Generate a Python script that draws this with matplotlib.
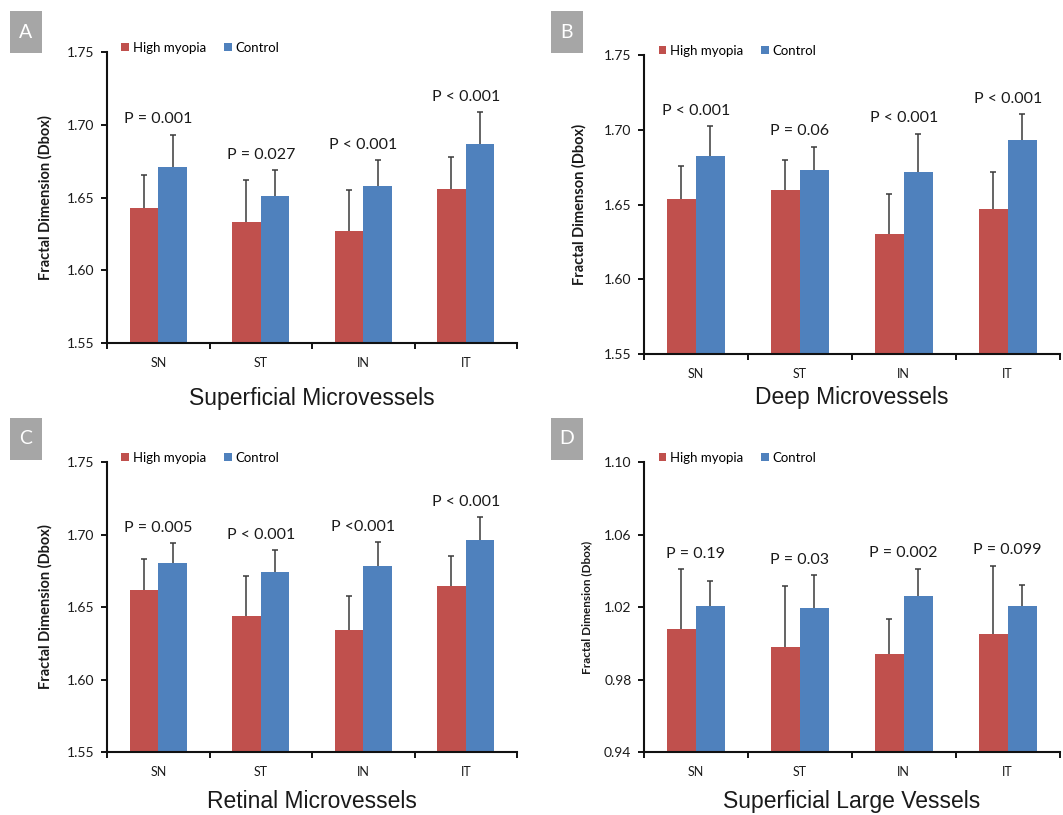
import matplotlib
matplotlib.use("Agg")
import matplotlib.pyplot as plt
from matplotlib.patches import Rectangle
import numpy as np

categories = ["SN", "ST", "IN", "IT"]
groups = ["High myopia", "Control"]

# Fractal dimension (Dbox), mean and SD per sector
a_myopia = [1.643, 1.633, 1.627, 1.656]
a_myopia_sd = [0.0223, 0.0293, 0.0282, 0.0222]
a_control = [1.671, 1.651, 1.658, 1.687]
a_control_sd = [0.0222, 0.0180, 0.0176, 0.0218]
a_pvals = ["P = 0.001", "P = 0.027", "P < 0.001", "P < 0.001"]

b_myopia = [1.654, 1.660, 1.630, 1.647]
b_myopia_sd = [0.0220, 0.0195, 0.0270, 0.0245]
b_control = [1.6826, 1.6728, 1.6719, 1.6929]
b_control_sd = [0.0200, 0.0160, 0.0256, 0.0176]
b_pvals = ["P < 0.001", "P = 0.06", "P < 0.001", "P < 0.001"]

c_myopia = [1.662, 1.644, 1.634, 1.6645]
c_myopia_sd = [0.0213, 0.0273, 0.0236, 0.0206]
c_control = [1.6805, 1.6743, 1.6784, 1.6963]
c_control_sd = [0.0135, 0.0151, 0.0163, 0.0157]
c_pvals = ["P = 0.005", "P < 0.001", "P <0.001", "P < 0.001"]

d_myopia = [1.008, 0.9977, 0.9942, 1.0049]
d_myopia_sd = [0.0328, 0.0338, 0.0191, 0.0380]
d_control = [1.0204, 1.0193, 1.0260, 1.0204]
d_control_sd = [0.0141, 0.0182, 0.0151, 0.0116]
d_pvals = ["P = 0.19", "P = 0.03", "P = 0.002", "P = 0.099"]

red = "#C0504D"
blue = "#4F81BD"
err_color = "#3a3a3a"
txt = "#1a1a1a"
ui_font = ["Lato", "DejaVu Sans"]
title_font = ["Liberation Sans", "DejaVu Sans"]

panels = [
    dict(letter="A", title="Superficial Microvessels", ylabel="Fractal Dimension (Dbox)",
         hm=a_myopia, hm_sd=a_myopia_sd, ct=a_control, ct_sd=a_control_sd, p=a_pvals,
         ylim=(1.55, 1.75), yticks=[1.55, 1.60, 1.65, 1.70, 1.75],
         rect=[0.1007, 0.5791, 0.3857, 0.357], title_y=-0.189, ylab_x=-0.132, ylab_size=10.5,
         box=(10, 11)),
    dict(letter="B", title="Deep Microvessels", ylabel="Fractal Dimenson (Dbox)",
         hm=b_myopia, hm_sd=b_myopia_sd, ct=b_control, ct_sd=b_control_sd, p=b_pvals,
         ylim=(1.55, 1.75), yticks=[1.55, 1.60, 1.65, 1.70, 1.75],
         rect=[0.6058, 0.5656, 0.391, 0.3669], title_y=-0.147, ylab_x=-0.137, ylab_size=10.5,
         box=(551, 11)),
    dict(letter="C", title="Retinal Microvessels", ylabel="Fractal Dimension (Dbox)",
         hm=c_myopia, hm_sd=c_myopia_sd, ct=c_control, ct_sd=c_control_sd, p=c_pvals,
         ylim=(1.55, 1.75), yticks=[1.55, 1.60, 1.65, 1.70, 1.75],
         rect=[0.1007, 0.0773, 0.3857, 0.3558], title_y=-0.172, ylab_x=-0.132, ylab_size=10.5,
         box=(10, 418)),
    dict(letter="D", title="Superficial Large Vessels", ylabel="Fractal Dimension (Dbox)",
         hm=d_myopia, hm_sd=d_myopia_sd, ct=d_control, ct_sd=d_control_sd, p=d_pvals,
         ylim=(0.94, 1.10), yticks=[0.94, 0.98, 1.02, 1.06, 1.10],
         rect=[0.6058, 0.0773, 0.391, 0.3558], title_y=-0.172, ylab_x=-0.125, ylab_size=8.5,
         box=(551, 418)),
]

W, H = 1063, 815
fig = plt.figure(figsize=(W / 100, H / 100), dpi=100)

x = np.arange(len(categories))
w = 0.28

for pn in panels:
    ax = fig.add_axes(pn["rect"])
    b1 = ax.bar(x - w / 2, pn["hm"], w, color=red, label=groups[0], zorder=2)
    b2 = ax.bar(x + w / 2, pn["ct"], w, color=blue, label=groups[1], zorder=2)

    # upper error bars only
    for xs, vals, sds in [(x - w / 2, pn["hm"], pn["hm_sd"]), (x + w / 2, pn["ct"], pn["ct_sd"])]:
        eb = ax.errorbar(xs, vals, yerr=[np.zeros(len(sds)), sds], fmt="none",
                         ecolor=err_color, elinewidth=1.1, capsize=2.5, capthick=1.1, zorder=3)
        eb[1][0].set_visible(False)

    tops = np.maximum(np.array(pn["hm"]) + np.array(pn["hm_sd"]),
                      np.array(pn["ct"]) + np.array(pn["ct_sd"]))
    for xi, t, lab in zip(x, tops, pn["p"]):
        ax.annotate(lab, (xi, t), xytext=(0, 11), textcoords="offset points",
                    ha="center", va="center", fontsize=11.5, family=ui_font, color=txt)

    ax.set_xlim(-0.5, len(categories) - 0.5)
    ax.set_ylim(*pn["ylim"])
    ax.set_yticks(pn["yticks"])
    ax.set_yticklabels([f"{t:.2f}" for t in pn["yticks"]], family=ui_font, fontsize=10, color=txt)
    ax.set_xticks(x)
    ax.set_xticklabels(categories, family=ui_font, fontsize=9, color=txt)
    ax.set_xticks(np.arange(len(categories) + 1) - 0.5, minor=True)
    ax.tick_params(axis="x", which="major", length=0, pad=10)
    ax.tick_params(axis="x", which="minor", length=4, width=1.3, direction="out")
    ax.tick_params(axis="y", length=4, width=1.3, direction="out", pad=5)

    for s in ["top", "right"]:
        ax.spines[s].set_visible(False)
    for s in ["left", "bottom"]:
        ax.spines[s].set_linewidth(1.5)
        ax.spines[s].set_color("#111111")

    ax.set_ylabel(pn["ylabel"], family=ui_font, fontweight="bold", fontsize=pn["ylab_size"], color=txt)
    ax.yaxis.set_label_coords(pn["ylab_x"], 0.5)

    ax.text(0.5, pn["title_y"], pn["title"], transform=ax.transAxes, ha="center", va="center",
            fontsize=16.5, family=title_font, color=txt)

    ax.legend(handles=[b1, b2], loc="center left", bbox_to_anchor=(0.035, 1.015), ncol=2,
              frameon=False, prop={"family": ui_font, "size": 9.5},
              handlelength=0.55, handleheight=0.55, handletextpad=0.3, columnspacing=1.4,
              borderpad=0, borderaxespad=0)

    bx, by = pn["box"]
    fig.patches.append(Rectangle((bx / W, 1 - (by + 42) / H), 32 / W, 42 / H,
                                 transform=fig.transFigure, facecolor="#a6a6a6",
                                 edgecolor="none", zorder=0))
    fig.text((bx + 16) / W, 1 - (by + 21) / H, pn["letter"], ha="center", va="center",
             color="white", fontsize=14, family=ui_font)

fig.savefig("out.png", dpi=100)
